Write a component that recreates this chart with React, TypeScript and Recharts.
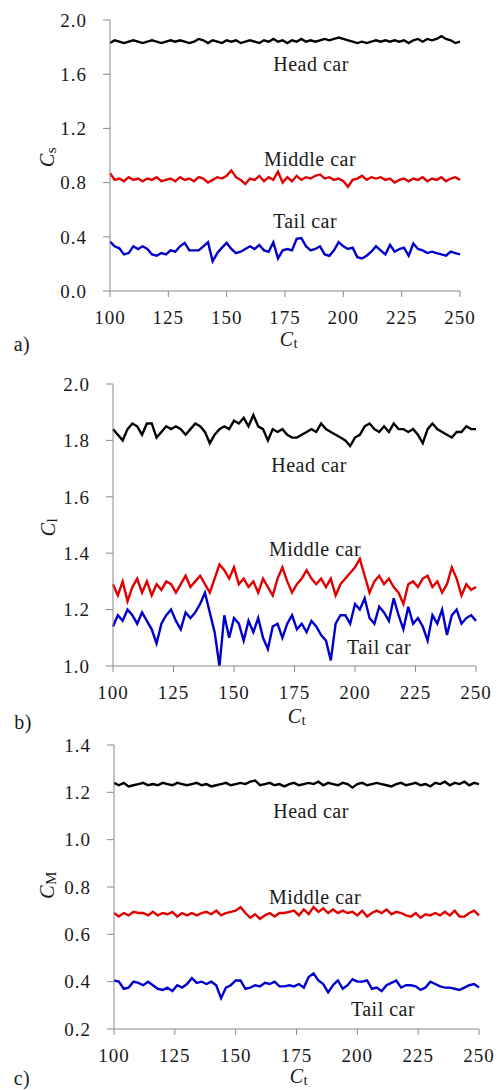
import React from "react";
import { LineChart, Line, XAxis, YAxis } from "recharts";

// Ct samples (shared by all three panels)
const ct = [
  100, 102, 104, 106, 108, 110, 112, 114, 116, 118,
  120, 122, 124, 126, 128, 130, 132, 134, 136, 138,
  140, 142, 144, 146, 148, 150, 152, 154, 156, 158,
  160, 162, 164, 166, 168, 170, 172, 174, 176, 178,
  180, 182, 184, 186, 188, 190, 192, 194, 196, 198,
  200, 202, 204, 206, 208, 210, 212, 214, 216, 218,
  220, 222, 224, 226, 228, 230, 232, 234, 236, 238,
  240, 242, 244, 246, 248, 250
];
const xTicks = [100, 125, 150, 175, 200, 225, 250];

// a) Cs
const csHead = [
  1.83, 1.85, 1.84, 1.83, 1.84, 1.85, 1.84, 1.83, 1.84, 1.85,
  1.84, 1.83, 1.84, 1.85, 1.84, 1.85, 1.84, 1.83, 1.84, 1.86,
  1.85, 1.83, 1.85, 1.84, 1.83, 1.85, 1.84, 1.85, 1.83, 1.84,
  1.85, 1.84, 1.83, 1.85, 1.84, 1.86, 1.84, 1.85, 1.83, 1.85,
  1.84, 1.86, 1.84, 1.85, 1.84, 1.85, 1.86, 1.85, 1.86, 1.87,
  1.86, 1.85, 1.84, 1.83, 1.84, 1.83, 1.84, 1.85, 1.84, 1.85,
  1.84, 1.85, 1.84, 1.85, 1.83, 1.85, 1.86, 1.84, 1.86, 1.85,
  1.86, 1.88, 1.86, 1.85, 1.83, 1.84
];
const csMiddle = [
  0.87, 0.82, 0.83, 0.81, 0.84, 0.82, 0.83, 0.81, 0.83, 0.82,
  0.84, 0.81, 0.82, 0.83, 0.81, 0.84, 0.82, 0.83, 0.81, 0.84,
  0.83, 0.80, 0.82, 0.84, 0.83, 0.85, 0.89, 0.84, 0.82, 0.79,
  0.83, 0.82, 0.85, 0.81, 0.84, 0.82, 0.88, 0.80, 0.84, 0.81,
  0.85, 0.82, 0.84, 0.83, 0.85, 0.86, 0.83, 0.84, 0.82, 0.83,
  0.81, 0.77, 0.82, 0.83, 0.85, 0.82, 0.84, 0.83, 0.84, 0.82,
  0.83, 0.80, 0.82, 0.83, 0.81, 0.83, 0.82, 0.84, 0.81, 0.83,
  0.82, 0.84, 0.81, 0.83, 0.84, 0.82
];
const csTail = [
  0.365, 0.33, 0.315, 0.27, 0.28, 0.33, 0.31, 0.33, 0.31, 0.27,
  0.26, 0.28, 0.27, 0.30, 0.29, 0.33, 0.355, 0.30, 0.30, 0.30,
  0.33, 0.36, 0.22, 0.28, 0.32, 0.355, 0.31, 0.28, 0.29, 0.31,
  0.33, 0.31, 0.34, 0.30, 0.29, 0.36, 0.24, 0.30, 0.31, 0.30,
  0.385, 0.39, 0.33, 0.30, 0.31, 0.33, 0.27, 0.26, 0.30, 0.36,
  0.33, 0.31, 0.32, 0.25, 0.24, 0.26, 0.29, 0.33, 0.30, 0.27,
  0.34, 0.29, 0.31, 0.32, 0.26, 0.35, 0.31, 0.30, 0.28, 0.29,
  0.28, 0.27, 0.26, 0.29, 0.28, 0.27
];

// b) Cl
const clHead = [
  1.84, 1.82, 1.80, 1.84, 1.86, 1.85, 1.82, 1.86, 1.86, 1.81,
  1.83, 1.85, 1.84, 1.85, 1.84, 1.82, 1.84, 1.86, 1.85, 1.83,
  1.79, 1.82, 1.84, 1.85, 1.84, 1.87, 1.86, 1.88, 1.85, 1.89,
  1.85, 1.84, 1.80, 1.84, 1.83, 1.84, 1.82, 1.81, 1.81, 1.82,
  1.83, 1.84, 1.83, 1.86, 1.84, 1.83, 1.82, 1.81, 1.80, 1.78,
  1.81, 1.82, 1.85, 1.86, 1.84, 1.83, 1.85, 1.83, 1.86, 1.84,
  1.84, 1.83, 1.84, 1.82, 1.79, 1.84, 1.86, 1.84, 1.83, 1.82,
  1.81, 1.83, 1.83, 1.85, 1.84, 1.84
];
const clMiddle = [
  1.29, 1.25, 1.30, 1.23, 1.28, 1.31, 1.26, 1.30, 1.25, 1.29,
  1.27, 1.30, 1.29, 1.26, 1.29, 1.32, 1.28, 1.30, 1.32, 1.29,
  1.26, 1.31, 1.36, 1.34, 1.31, 1.35, 1.29, 1.31, 1.28, 1.30,
  1.26, 1.31, 1.28, 1.25, 1.31, 1.35, 1.30, 1.26, 1.29, 1.31,
  1.34, 1.31, 1.29, 1.31, 1.28, 1.31, 1.25, 1.29, 1.31, 1.33,
  1.35, 1.38, 1.32, 1.26, 1.30, 1.32, 1.29, 1.31, 1.28, 1.26,
  1.22, 1.29, 1.30, 1.28, 1.31, 1.32, 1.28, 1.30, 1.26, 1.29,
  1.35, 1.31, 1.25, 1.29, 1.27, 1.28
];
const clTail = [
  1.14, 1.18, 1.16, 1.20, 1.18, 1.15, 1.19, 1.16, 1.13, 1.08,
  1.15, 1.18, 1.20, 1.16, 1.13, 1.19, 1.17, 1.19, 1.22, 1.26,
  1.19, 1.12, 1.00, 1.18, 1.10, 1.17, 1.15, 1.09, 1.16, 1.12,
  1.17, 1.10, 1.06, 1.14, 1.15, 1.10, 1.15, 1.18, 1.13, 1.15,
  1.12, 1.16, 1.14, 1.11, 1.09, 1.02, 1.15, 1.18, 1.18, 1.15,
  1.22, 1.20, 1.24, 1.17, 1.15, 1.21, 1.19, 1.16, 1.24, 1.18,
  1.13, 1.21, 1.15, 1.17, 1.14, 1.09, 1.18, 1.15, 1.20, 1.11,
  1.18, 1.20, 1.15, 1.17, 1.18, 1.16
];

// c) CM
const cmHead = [
  1.24, 1.23, 1.24, 1.225, 1.23, 1.235, 1.24, 1.23, 1.235, 1.23,
  1.24, 1.235, 1.23, 1.24, 1.235, 1.23, 1.235, 1.24, 1.23, 1.235,
  1.225, 1.23, 1.235, 1.24, 1.23, 1.235, 1.24, 1.235, 1.245, 1.25,
  1.23, 1.235, 1.24, 1.23, 1.235, 1.225, 1.235, 1.24, 1.23, 1.235,
  1.24, 1.235, 1.245, 1.23, 1.24, 1.235, 1.23, 1.24, 1.235, 1.22,
  1.235, 1.24, 1.23, 1.235, 1.24, 1.235, 1.23, 1.225, 1.235, 1.24,
  1.23, 1.235, 1.24, 1.23, 1.235, 1.225, 1.24, 1.235, 1.245, 1.23,
  1.24, 1.235, 1.245, 1.23, 1.24, 1.235
];
const cmMiddle = [
  0.69, 0.675, 0.69, 0.68, 0.695, 0.69, 0.69, 0.68, 0.695, 0.68,
  0.69, 0.685, 0.695, 0.675, 0.69, 0.68, 0.69, 0.68, 0.69, 0.695,
  0.685, 0.70, 0.68, 0.69, 0.695, 0.70, 0.715, 0.69, 0.67, 0.685,
  0.665, 0.68, 0.69, 0.675, 0.69, 0.69, 0.695, 0.70, 0.68, 0.705,
  0.685, 0.715, 0.695, 0.71, 0.69, 0.705, 0.69, 0.70, 0.69, 0.695,
  0.68, 0.70, 0.675, 0.69, 0.70, 0.69, 0.705, 0.685, 0.695, 0.69,
  0.68, 0.675, 0.69, 0.67, 0.685, 0.68, 0.69, 0.68, 0.695, 0.68,
  0.70, 0.675, 0.675, 0.69, 0.70, 0.68
];
const cmTail = [
  0.405, 0.40, 0.37, 0.375, 0.40, 0.395, 0.385, 0.40, 0.385, 0.37,
  0.365, 0.375, 0.36, 0.385, 0.375, 0.39, 0.415, 0.395, 0.40, 0.39,
  0.40, 0.385, 0.33, 0.375, 0.385, 0.405, 0.405, 0.37, 0.375, 0.385,
  0.38, 0.395, 0.39, 0.40, 0.38, 0.38, 0.385, 0.38, 0.39, 0.375,
  0.42, 0.435, 0.405, 0.39, 0.355, 0.385, 0.405, 0.37, 0.385, 0.41,
  0.40, 0.40, 0.405, 0.37, 0.375, 0.36, 0.385, 0.395, 0.405, 0.375,
  0.385, 0.385, 0.38, 0.365, 0.375, 0.40, 0.39, 0.38, 0.375, 0.375,
  0.37, 0.365, 0.375, 0.385, 0.39, 0.375
];

const FONT = "Liberation Serif";
const AXIS = "#8a8a8a";
const RED = "#e00000";
const BLUE = "#0000cc";

type PanelProps = {
  top: number;
  height: number;
  margin: { top: number; right: number; bottom: number; left: number };
  domain: [number, number];
  yTicks: number[];
  head: number[];
  middle: number[];
  tail: number[];
};

function Panel({ top, height, margin, domain, yTicks, head, middle, tail }: PanelProps) {
  const data = ct.map((x, i) => ({ ct: x, head: head[i], middle: middle[i], tail: tail[i] }));
  const tickStyle = { fill: "#1a1a1a", fontSize: 19, fontFamily: FONT };
  return (
    <div style={{ position: "absolute", left: 0, top, fontFamily: FONT, letterSpacing: 1 }}>
      <LineChart width={501} height={height} data={data} margin={margin}>
        <XAxis
          dataKey="ct"
          type="number"
          domain={[100, 250]}
          ticks={xTicks}
          interval={0}
          height={40}
          tickSize={6}
          tickMargin={14}
          stroke={AXIS}
          tick={tickStyle}
        />
        <YAxis
          type="number"
          domain={domain}
          ticks={yTicks}
          interval={0}
          width={60}
          tickSize={7}
          tickMargin={16}
          stroke={AXIS}
          tick={tickStyle}
          tickFormatter={(v: number) => v.toFixed(1)}
        />
        <Line dataKey="head" type="linear" stroke="#000" strokeWidth={2.4} dot={false} isAnimationActive={false} />
        <Line dataKey="middle" type="linear" stroke={RED} strokeWidth={2.4} dot={false} isAnimationActive={false} />
        <Line dataKey="tail" type="linear" stroke={BLUE} strokeWidth={2.4} dot={false} isAnimationActive={false} />
      </LineChart>
    </div>
  );
}

function Note({ x, y, children, rotate = false, size = 20 }: { x: number; y: number; children: React.ReactNode; rotate?: boolean; size?: number }) {
  return (
    <div
      style={{
        position: "absolute",
        left: x,
        top: y,
        transform: `translate(-50%, -50%)${rotate ? " rotate(-90deg)" : ""}`,
        fontFamily: FONT,
        fontSize: size,
        lineHeight: 1,
        whiteSpace: "nowrap",
        color: "#1a1a1a",
        letterSpacing: 0.5
      }}
    >
      {children}
    </div>
  );
}

const Sym = ({ sub }: { sub: string }) => (
  <span>
    <i>C</i>
    <span style={{ fontSize: 15, position: "relative", top: 2 }}>{sub}</span>
  </span>
);

export default function App() {
  return (
    <div style={{ position: "absolute", left: 0, top: 0, width: 501, height: 1090, background: "#fff", overflow: "hidden", fontFamily: FONT }}>
      <Panel
        top={0}
        height={360}
        margin={{ top: 20, right: 41, bottom: 29, left: 50 }}
        domain={[0, 2]}
        yTicks={[0, 0.4, 0.8, 1.2, 1.6, 2.0]}
        head={csHead}
        middle={csMiddle}
        tail={csTail}
      />
      <Panel
        top={360}
        height={360}
        margin={{ top: 24, right: 25, bottom: 14, left: 53 }}
        domain={[1, 2]}
        yTicks={[1.0, 1.2, 1.4, 1.6, 1.8, 2.0]}
        head={clHead}
        middle={clMiddle}
        tail={clTail}
      />
      <Panel
        top={720}
        height={370}
        margin={{ top: 25, right: 22, bottom: 21, left: 54 }}
        domain={[0.2, 1.4]}
        yTicks={[0.2, 0.4, 0.6, 0.8, 1.0, 1.2, 1.4]}
        head={cmHead}
        middle={cmMiddle}
        tail={cmTail}
      />

      <Note x={311} y={64}>Head car</Note>
      <Note x={310} y={159}>Middle car</Note>
      <Note x={305} y={221}>Tail car</Note>
      <Note x={47} y={157} rotate><Sym sub="s" /></Note>
      <Note x={289} y={339}><Sym sub="t" /></Note>
      <Note x={22} y={344}>a)</Note>

      <Note x={309} y={465}>Head car</Note>
      <Note x={315} y={549}>Middle car</Note>
      <Note x={379} y={647}>Tail car</Note>
      <Note x={48} y={527} rotate><Sym sub="l" /></Note>
      <Note x={297} y={716}><Sym sub="t" /></Note>
      <Note x={23} y={722}>b)</Note>

      <Note x={311} y={811}>Head car</Note>
      <Note x={315} y={897}>Middle car</Note>
      <Note x={383} y={1009}>Tail car</Note>
      <Note x={47} y={885} rotate><Sym sub="M" /></Note>
      <Note x={299} y={1076}><Sym sub="t" /></Note>
      <Note x={22} y={1078}>c)</Note>
    </div>
  );
}
